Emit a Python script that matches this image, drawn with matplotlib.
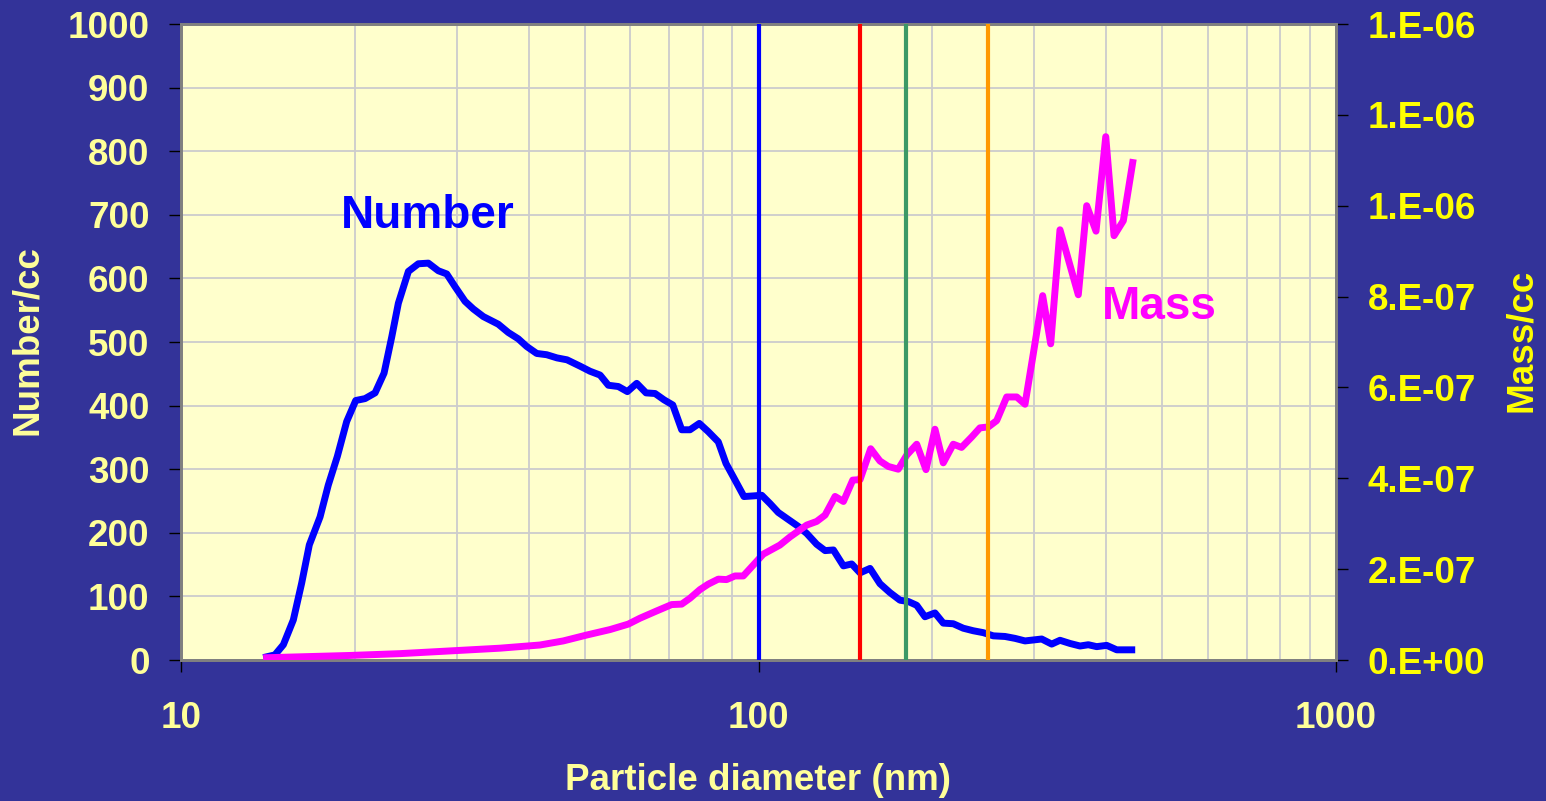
import matplotlib
matplotlib.use("Agg")
import matplotlib.pyplot as plt
from matplotlib.ticker import FixedLocator, FuncFormatter, NullFormatter, LogLocator

plt.rcParams["font.family"] = ["Liberation Sans", "DejaVu Sans"]
plt.rcParams["font.weight"] = "bold"

# --- data ---
number_diam = [14.07, 14.54, 15.04, 15.65, 16.18, 16.68, 17.41, 17.99, 18.65, 19.36,
               20.07, 20.83, 21.68, 22.47, 23.17, 23.79, 24.76, 25.76, 26.81, 27.90,
               28.85, 29.82, 31.03, 32.07, 33.38, 35.43, 36.87, 38.37, 39.68, 41.30,
               42.98, 44.78, 46.60, 49.10, 51.09, 53.17, 54.95, 57.19, 59.28, 61.54,
               63.87, 66.21, 68.63, 71.05, 73.62, 76.10, 78.98, 81.86, 85.19, 87.84,
               90.44, 94.37, 97.95, 101.3, 104.7, 108.2, 112.6, 117.2, 121.2, 126.1,
               130.4, 134.8, 140.3, 145.0, 149.9, 156.0, 162.3, 168.9, 175.8, 181.7,
               187.9, 194.2, 202.1, 208.9, 217.4, 226.2, 235.4, 245.0, 255.0, 267.2,
               278.1, 289.4, 309.3, 321.9, 332.7, 346.3, 360.4, 372.5, 385.1, 400.8,
               417.2, 442.9]
number_conc = [5, 8, 24, 63, 121, 181, 225, 275, 320, 375,
               408, 411, 420, 451, 508, 561, 611, 623, 624, 612,
               607, 587, 564, 552, 540, 528, 515, 505, 493, 482,
               480, 475, 472, 462, 454, 448, 432, 430, 422, 435,
               420, 419, 409, 401, 362, 362, 372, 359, 343, 309,
               288, 257, 258, 259, 246, 232, 221, 210, 199, 182,
               172, 173, 148, 151, 137, 144, 120, 106, 94, 92,
               86, 68, 74, 58, 57, 50, 46, 43, 38, 37,
               34, 30, 33, 25, 31, 26, 22, 24, 21, 23,
               16, 16]

mass_diam = [14.07, 16.07, 19.62, 23.94, 29.24, 35.67, 41.84, 45.92, 50.42, 55.33,
             59.50, 62.34, 66.63, 70.73, 73.62, 76.10, 79.19, 81.86, 85.19, 88.06,
             91.04, 94.12, 97.95, 101.9, 108.9, 113.4, 121.2, 126.1, 130.4, 135.7,
             140.3, 145.6, 149.9, 156.4, 162.3, 167.8, 174.6, 180.6, 187.9, 195.0,
             202.1, 208.9, 217.4, 224.7, 234.0, 241.8, 250.0, 258.5, 269.0, 280.0,
             289.4, 299.1, 310.5, 320.6, 332.7, 357.9, 370.1, 384.1, 399.3, 412.7,
             428.3, 444.6]
mass_conc = [0.05, 0.07, 0.10, 0.14, 0.20, 0.26, 0.33, 0.42, 0.55, 0.67,
             0.79, 0.92, 1.08, 1.22, 1.23, 1.36, 1.55, 1.67, 1.78, 1.77,
             1.85, 1.85, 2.09, 2.33, 2.53, 2.71, 2.97, 3.05, 3.19, 3.60,
             3.49, 3.96, 3.97, 4.65, 4.38, 4.26, 4.20, 4.51, 4.75, 4.19,
             5.08, 4.34, 4.75, 4.68, 4.91, 5.11, 5.13, 5.27, 5.79, 5.79,
             5.63, 6.74, 8.02, 6.96, 9.47, 8.04, 10.0, 9.44, 11.52, 9.34,
             9.67, 10.95]
mass_conc = [v * 1e-7 for v in mass_conc]

cut_sizes = [100, 150, 180, 250]
cut_colors = ["#0000FF", "#FF0000", "#3C9966", "#FF9900"]

left_ticks = list(range(0, 1001, 100))
right_ticks = [i * 2e-7 for i in range(8)]
x_ticks = [10, 100, 1000]

BG = "#333399"
PALE = "#FFFF99"
YEL = "#FFFF00"
FS = 26.5

fig = plt.figure(figsize=(15.46, 8.01), dpi=100)
fig.patch.set_facecolor(BG)
ax = fig.add_axes([181 / 1546, 1 - 660 / 801, (1336 - 181) / 1546, (660 - 24) / 801])
ax.set_facecolor("#FFFFCC")
ax2 = ax.twinx()

ax.set_xscale("log")
ax.set_xlim(10, 1000)
ax.set_ylim(0, 1000)
ax2.set_ylim(0, 1.4e-6)

# grid
ax.xaxis.set_major_locator(FixedLocator(x_ticks))
ax.xaxis.set_minor_locator(LogLocator(base=10, subs=range(2, 10)))
ax.xaxis.set_minor_formatter(NullFormatter())
ax.xaxis.set_major_formatter(FuncFormatter(lambda v, p: f"{v:g}"))
ax.set_yticks(left_ticks)
ax.grid(which="both", axis="x", color="#CCCCCC", linewidth=1.3)
ax.grid(which="major", axis="y", color="#CCCCCC", linewidth=1.3)
ax.set_axisbelow(True)

ax.plot(number_diam, number_conc, color="#0000FF", linewidth=5, zorder=3)
ax2.plot(mass_diam, mass_conc, color="#FF00FF", linewidth=5, zorder=3)
for xc, col in zip(cut_sizes, cut_colors):
    ax2.axvline(xc, color=col, linewidth=3, zorder=4)

ax2.set_yticks(right_ticks)
ax2.yaxis.set_major_formatter(FuncFormatter(lambda v, p: f"{v:#.0E}"))

# ticks
ax.tick_params(axis="x", which="minor", length=0)
ax.tick_params(axis="x", which="major", direction="out", length=8.6, width=1, color="black",
               labelcolor=PALE, labelsize=FS, pad=21)
ax.tick_params(axis="y", direction="out", length=8.6, width=1, color="black",
               labelcolor=PALE, labelsize=FS, pad=14)
ax2.tick_params(axis="y", direction="out", length=8.6, width=1, color="black",
                labelcolor=YEL, labelsize=FS, pad=14)
for a in (ax, ax2):
    for s in a.spines.values():
        s.set_color("#808080")
        s.set_linewidth(2)

# text
ax.text(26.7, 698, "Number", color="#0000FF", fontsize=33, fontweight="bold",
        ha="center", va="center", zorder=5)
ax.text(495, 555, "Mass", color="#FF00FF", fontsize=33, fontweight="bold",
        ha="center", va="center", zorder=5)

fig.text(28 / 1546, 1 - 340 / 801, "Number/cc", color=PALE, fontsize=FS, fontweight="bold",
         rotation=90, ha="center", va="center")
fig.text(1521 / 1546, 1 - 340 / 801, "Mass/cc", color=YEL, fontsize=FS, fontweight="bold",
         rotation=90, ha="center", va="center")
fig.text(758 / 1546, 1 - 780 / 801, "Particle diameter (nm)", color=PALE, fontsize=FS,
         fontweight="bold", ha="center", va="center")

fig.savefig("out.png", dpi=100, facecolor=BG)
